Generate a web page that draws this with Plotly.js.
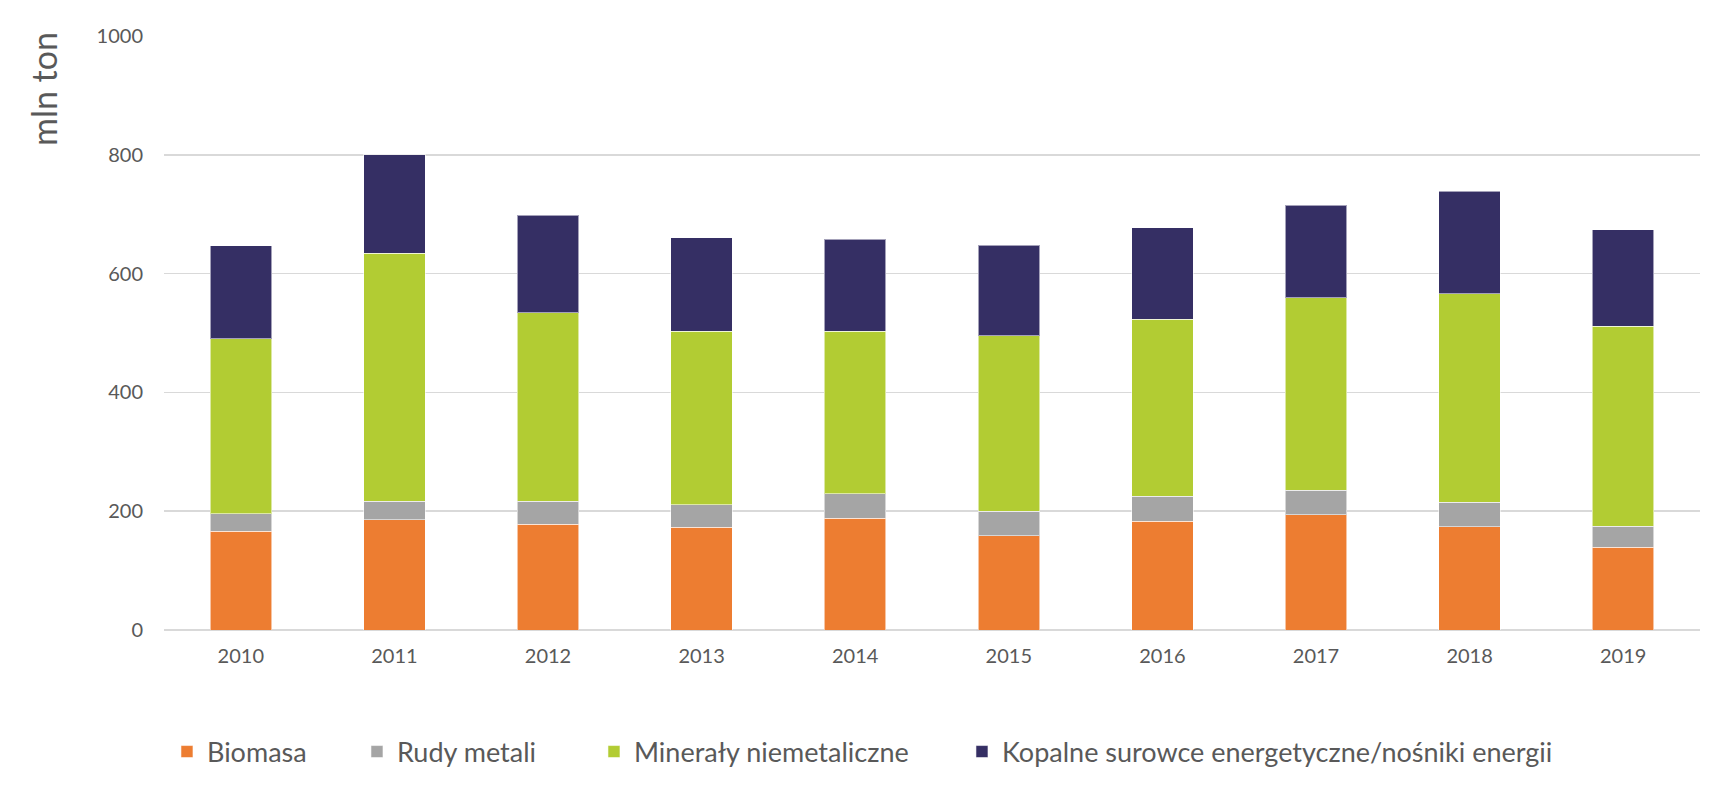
<!DOCTYPE html>
<html>
<head>
<meta charset="utf-8">
<script src="https://cdn.plot.ly/plotly-3.0.1.min.js"></script>
<style>html,body{margin:0;padding:0;background:#fff;}#chart{width:1709px;height:792px;}</style>
</head>
<body>
<div id="chart"></div>
<script>
const years = ['2010','2011','2012','2013','2014','2015','2016','2017','2018','2019'];
const biomasa = [166, 186, 178, 173, 188, 159, 183, 194, 174, 139];
const rudyMetali = [30, 31, 39, 38, 41, 41, 42, 41, 41, 36];
const mineraly = [294, 417, 317, 292, 274, 295, 298, 324, 351, 336];
const kopalne = [157, 166, 164, 157, 155, 153, 154, 156, 173, 163];
const seriesNames = ['Biomasa', 'Rudy metali', 'Minerały niemetaliczne', 'Kopalne surowce energetyczne/nośniki energii'];
const yTicks = [0, 200, 400, 600, 800, 1000];
const yAxisLabel = 'mln ton';

const colors = ['#ED7D31', '#A5A5A5', '#B2CC33', '#352F64'];
const legendWidths = [145, 192, 323, null];
const values = [biomasa, rudyMetali, mineraly, kopalne];

const traces = values.map((v, i) => {
  const t = {
    type: 'bar',
    name: seriesNames[i],
    x: years,
    y: v,
    marker: {color: colors[i], line: {color: 'rgba(255,255,255,0.55)', width: 1}},
    hoverinfo: 'x+y+name'
  };
  if (legendWidths[i]) t.legendwidth = legendWidths[i];
  return t;
});

const layout = {
  width: 1709,
  height: 792,
  barmode: 'stack',
  bargap: 0.6,
  paper_bgcolor: '#ffffff',
  plot_bgcolor: '#ffffff',
  margin: {l: 164, r: 9, t: 36, b: 162},
  font: {family: 'Lato, sans-serif', color: '#595959', size: 20},
  xaxis: {
    type: 'category',
    showgrid: false,
    zeroline: false,
    showline: false,
    ticks: '',
    ticklabelstandoff: 12,
    tickfont: {size: 20, color: '#595959'}
  },
  yaxis: {
    range: [0, 1000],
    tickvals: yTicks,
    ticktext: yTicks.map(String),
    showgrid: true,
    gridcolor: '#d9d9d9',
    gridwidth: 1.5,
    zeroline: true,
    zerolinecolor: '#d9d9d9',
    zerolinewidth: 1.5,
    showline: false,
    ticks: '',
    ticklabelstandoff: 20,
    tickfont: {size: 20, color: '#595959'}
  },
  showlegend: true,
  legend: {
    orientation: 'h',
    xref: 'container',
    yref: 'container',
    x: 0.0977,
    xanchor: 'left',
    y: 0.0505,
    yanchor: 'middle',
    font: {size: 27, color: '#595959'},
    traceorder: 'normal',
    itemclick: false
  },
  annotations: [{
    text: yAxisLabel,
    xref: 'paper',
    yref: 'paper',
    x: -0.078,
    y: 0.911,
    xanchor: 'center',
    yanchor: 'middle',
    textangle: -90,
    showarrow: false,
    font: {size: 34, color: '#595959', family: 'Lato, sans-serif'}
  }]
};

Plotly.newPlot('chart', traces, layout, {displayModeBar: false, staticPlot: true});
</script>
</body>
</html>
